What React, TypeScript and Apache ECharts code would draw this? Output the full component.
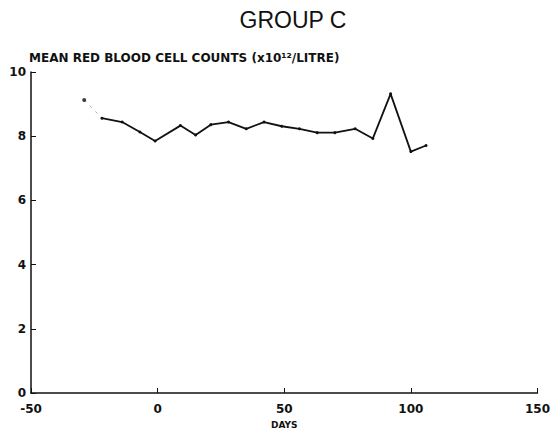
import React, { useEffect, useRef } from "react";
import * as echarts from "echarts";

const days = [-22, -14, -7, -1, 9, 15, 21, 28, 35, 42, 49, 56, 63, 70, 78, 85, 92, 100, 106];
const rbc = [8.56, 8.44, 8.13, 7.85, 8.33, 8.04, 8.36, 8.44, 8.23, 8.44, 8.31, 8.23, 8.11, 8.11, 8.23, 7.93, 9.32, 7.52, 7.71];
const firstDay = -29;
const firstValue = 9.13;
const xTicks = [-50, 0, 50, 100, 150];
const yTicks = [0, 2, 4, 6, 8, 10];

export default function App() {
  const ref = useRef<HTMLDivElement>(null);
  useEffect(() => {
    if (!ref.current) return;
    const chart = echarts.init(ref.current, undefined, { renderer: "svg" });
    const font = "Liberation Sans, Arial, sans-serif";
    const bold = "DejaVu Sans, sans-serif";
    chart.setOption({
      animation: false,
      backgroundColor: "#fff",
      title: {
        text: "GROUP C",
        left: 288,
        top: 3,
        textAlign: "center",
        textStyle: { fontFamily: font, fontSize: 23, fontWeight: "normal", color: "#111" },
      },
      graphic: [
        {
          type: "text",
          left: 29,
          top: 52,
          style: {
            text: "MEAN RED BLOOD CELL COUNTS (x10¹²/LITRE)",
            fontFamily: bold,
            fontSize: 12,
            fontWeight: "bold",
            fill: "#111",
          },
        },
      ],
      grid: { left: 31, right: 14, top: 72, bottom: 40, containLabel: false },
      xAxis: {
        type: "value",
        min: xTicks[0],
        max: xTicks[xTicks.length - 1],
        interval: 50,
        name: "DAYS",
        nameLocation: "middle",
        nameGap: 27,
        nameTextStyle: { fontFamily: bold, fontSize: 9, fontWeight: "bold", color: "#111" },
        axisLine: { onZero: false, lineStyle: { color: "#111", width: 1.5 } },
        axisTick: { inside: true, length: 5, lineStyle: { color: "#111" } },
        axisLabel: { fontFamily: bold, fontSize: 12, fontWeight: "bold", color: "#111", margin: 10 },
        splitLine: { show: false },
      },
      yAxis: {
        type: "value",
        min: yTicks[0],
        max: yTicks[yTicks.length - 1],
        interval: 2,
        axisLine: { show: true, onZero: false, lineStyle: { color: "#111", width: 1.5 } },
        axisTick: { show: true, inside: true, length: 5, lineStyle: { color: "#111" } },
        axisLabel: { fontFamily: bold, fontSize: 12, fontWeight: "bold", color: "#111", margin: 5 },
        splitLine: { show: false },
      },
      series: [
        {
          type: "line",
          data: [[firstDay, firstValue], [days[0], rbc[0]]],
          showSymbol: false,
          symbol: "none",
          lineStyle: { color: "#aaa", width: 1, type: [3, 5] },
          z: 1,
        },
        {
          type: "scatter",
          data: [[firstDay, firstValue]],
          symbol: "circle",
          symbolSize: 4,
          itemStyle: { color: "#111" },
          z: 3,
        },
        {
          type: "line",
          data: days.map((d, i) => [d, rbc[i]]),
          symbol: "circle",
          symbolSize: 3,
          lineStyle: { color: "#111", width: 1.8 },
          itemStyle: { color: "#111" },
          z: 2,
        },
      ],
    });
    return () => chart.dispose();
  }, []);
  return <div ref={ref} style={{ width: 553, height: 434, position: "absolute", left: 0, top: 0 }} />;
}
